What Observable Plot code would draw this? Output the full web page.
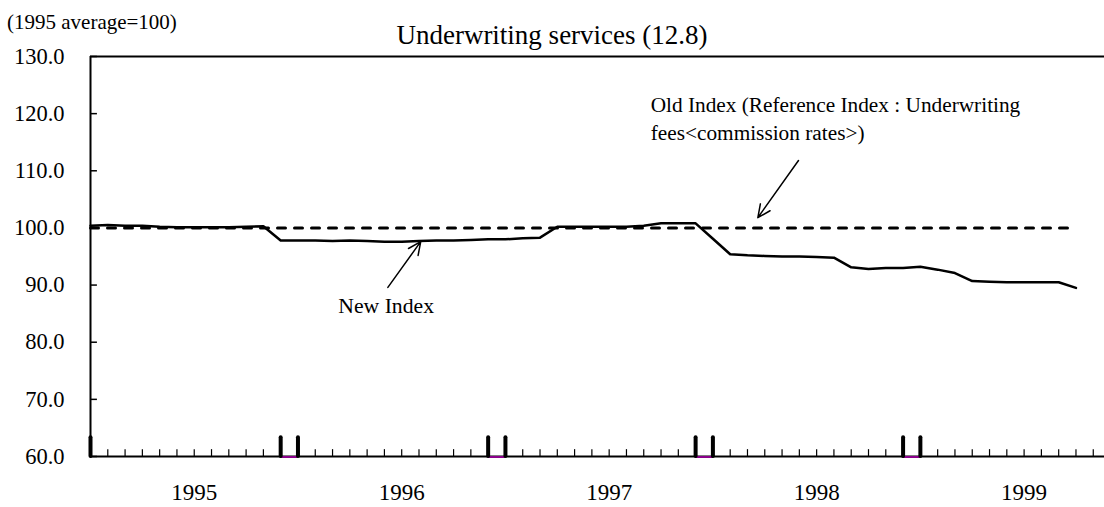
<!DOCTYPE html>
<html>
<head>
<meta charset="utf-8">
<script src="https://cdn.jsdelivr.net/npm/d3@7"></script>
<script src="https://cdn.jsdelivr.net/npm/@observablehq/plot@0.6"></script>
<style>
  html, body { margin: 0; padding: 0; background: #fff; }
  #wrap { position: relative; width: 1104px; height: 507px; font-family: "Liberation Serif", "Times New Roman", serif; }
  #title { position: absolute; left: 0; width: 1104px; top: 19px; text-align: center; font-size: 27px; line-height: 32px; }
  #unit { position: absolute; left: 7px; top: 9px; font-size: 21px; line-height: 26px; }
  #chart { position: absolute; left: 0; top: 0; }
</style>
</head>
<body>
<div id="wrap">
  <div id="chart"></div>
  <div id="title">Underwriting services (12.8)</div>
  <div id="unit">(1995 average=100)</div>
</div>
<script>
// ---- data ----
const years = ["1995", "1996", "1997", "1998", "1999"];
const newIndex = [
  100.4, 100.5, 100.4, 100.4, 100.2, 100.1, 100.1, 100.1, 100.1, 100.2, 100.3, 97.8,
  97.8, 97.8, 97.7, 97.8, 97.7, 97.6, 97.6, 97.7, 97.8, 97.8, 97.9, 98.0,
  98.0, 98.2, 98.3, 100.2, 100.2, 100.2, 100.2, 100.2, 100.4, 100.8, 100.8, 100.8,
  98.1, 95.4, 95.2, 95.1, 95.0, 95.0, 94.9, 94.8, 93.1, 92.8, 93.0, 93.0,
  93.2, 92.7, 92.1, 90.7, 90.6, 90.5, 90.5, 90.5, 90.5, 89.5
];
const oldIndex = newIndex.map(() => 100.0);
const yTicks = [60, 70, 80, 90, 100, 110, 120, 130];
const breakTicks = [0, 11, 12, 23, 24, 35, 36, 47, 48];
const breakSpans = [[11, 12], [23, 24], [35, 36], [47, 48]];
const oldLabel = ["Old Index (Reference Index : Underwriting", "fees<commission rates>)"];
const newLabel = "New Index";

// ---- build ----
const rows = newIndex.map((v, i) => ({i, nw: v, old: oldIndex[i]}));
const monthTicks = d3.range(1, 59);
const yearRows = years.map((y, k) => ({x: k * 12 + 6, label: y}));
const serif = '"Liberation Serif", "Times New Roman", serif';

const chart = Plot.plot({
  width: 1104,
  height: 507,
  marginLeft: 90,
  marginRight: 0,
  marginTop: 56,
  marginBottom: 51,
  style: {fontFamily: serif, background: "white", overflow: "visible"},
  x: {type: "linear", domain: [0, 58.65], axis: null},
  y: {domain: [60, 130], axis: null},
  marks: [
    // frame
    Plot.ruleY([130], {stroke: "black", strokeWidth: 2}),
    Plot.ruleX([0], {stroke: "black", strokeWidth: 2}),
    // y ticks (inside) and labels
    Plot.ruleY(yTicks, {x1: 0, x2: 0.4, stroke: "black", strokeWidth: 1.5}),
    Plot.text(yTicks, {x: 0, y: d => d, text: d => d.toFixed(1), textAnchor: "end", dx: -26, fontSize: 22.5, fill: "black"}),
    // month ticks
    Plot.ruleX(monthTicks, {y1: 60, y2: 61.2, stroke: "black", strokeWidth: 1.2}),
    // axis + purple spans + bold ticks
    Plot.ruleY([60], {stroke: "black", strokeWidth: 2}),
    Plot.ruleY(breakSpans, {y: () => 60, x1: d => d[0], x2: d => d[1], stroke: "#8b008b", strokeWidth: 2, dy: 0.5}),
    Plot.ruleX(breakTicks, {y1: 60, y2: 63.3, stroke: "black", strokeWidth: 4, strokeLinecap: "round"}),
    // year labels
    Plot.text(yearRows, {x: "x", y: () => 60, text: "label", dy: 36, fontSize: 23, fill: "black"}),
    // series
    Plot.line(rows, {x: "i", y: "old", stroke: "black", strokeWidth: 3, strokeDasharray: "8,9"}),
    Plot.line(rows, {x: "i", y: "nw", stroke: "black", strokeWidth: 2.5}),
    // annotations
    Plot.text(oldLabel, {x: () => 32.4, y: (d, k) => 121.4 - k * 4.9, text: d => d, textAnchor: "start", fontSize: 21.3, fill: "black"}),
    Plot.arrow([{x1: 40.95, y1: 111.8, x2: 38.6, y2: 101.8}], {x1: "x1", y1: "y1", x2: "x2", y2: "y2", stroke: "black", strokeWidth: 1.5, headLength: 14, headAngle: 50}),
    Plot.text([newLabel], {x: () => 17.1, y: () => 86.4, text: d => d, fontSize: 21.7, fill: "black"}),
    Plot.arrow([{x1: 17.2, y1: 89.6, x2: 19.1, y2: 97.6}], {x1: "x1", y1: "y1", x2: "x2", y2: "y2", stroke: "black", strokeWidth: 1.5, headLength: 14, headAngle: 50})
  ]
});
document.getElementById("chart").appendChild(chart);
</script>
</body>
</html>
